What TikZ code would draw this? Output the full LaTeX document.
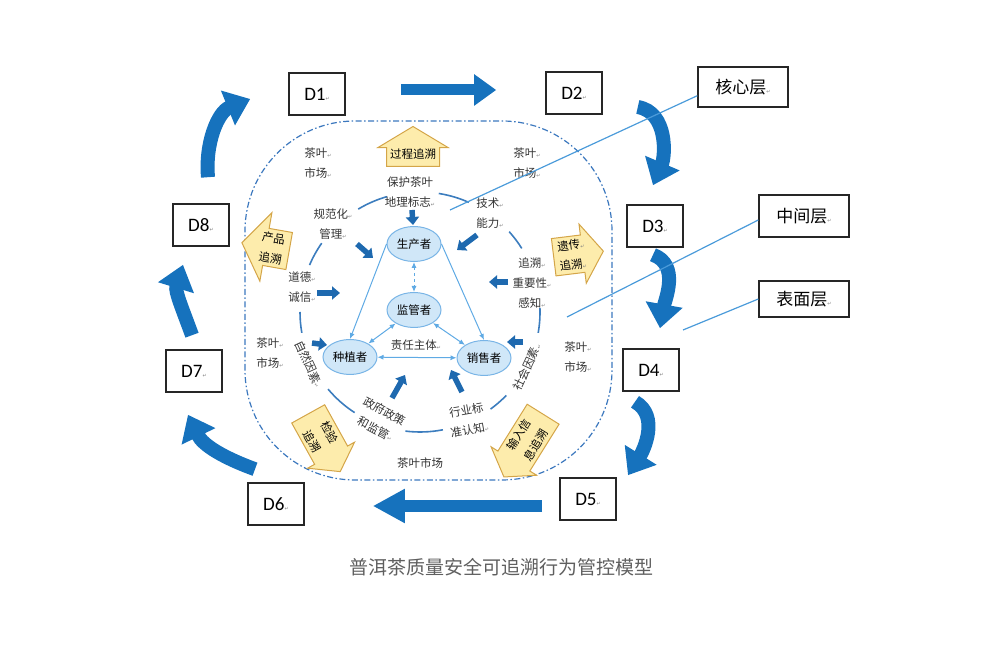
\documentclass[tikz,border=0pt]{standalone}
\usepackage{fontspec}
\setmainfont{Noto Sans CJK SC}
\newfontfamily\dfont{Carlito}
\newfontfamily\symf{DejaVu Sans}
\usetikzlibrary{arrows.meta,shapes.geometric,shapes.arrows}
\definecolor{bigblue}{RGB}{22,114,189}
\definecolor{fatblue}{RGB}{30,105,175}
\definecolor{ringblue}{RGB}{60,125,190}
\definecolor{linkblue}{RGB}{95,170,228}
\definecolor{ellfill}{RGB}{208,231,248}
\definecolor{ellbord}{RGB}{120,180,230}
\definecolor{yfill}{RGB}{253,236,172}
\definecolor{ybord}{RGB}{212,165,72}
\definecolor{dashblue}{RGB}{60,120,190}
\definecolor{leadblue}{RGB}{75,155,218}
\definecolor{capgray}{RGB}{95,95,95}
\newcommand\retm{{\symf\fontsize{5}{5}\selectfont\textcolor{black!50}{↵}}}
\tikzset{
  dbox/.style={draw=black!85, line width=1.6pt, fill=white, minimum width=56pt, minimum height=42pt, font=\dfont\fontsize{19}{19}\selectfont},
  lbox/.style={draw=black!85, line width=1.4pt, fill=white, minimum width=90pt, minimum height=40pt, font=\fontsize{17}{17}\selectfont},
  role/.style={ellipse, draw=ellbord, fill=ellfill, line width=1pt, minimum width=54pt, minimum height=35pt, inner sep=0pt, font=\fontsize{11.5}{12}\selectfont},
  lbl/.style={font=\fontsize{11.5}{20}\selectfont, text=black!80, align=center, inner sep=1pt},
  trace/.style={single arrow, draw=ybord, fill=yfill, line width=1pt, font=\fontsize{11.5}{20}\selectfont, align=center, inner sep=3pt},
  ring/.style={ringblue, line width=1.6pt},
  oneway/.style={linkblue, line width=1pt, -{Latex[length=6pt,width=5pt]}},
  twoway/.style={linkblue, line width=1pt, {Latex[length=6pt,width=5pt]}-{Latex[length=6pt,width=5pt]}},
  fat/.style={fatblue, line width=5.5pt, -{Triangle[length=8pt,width=13pt]}},
  bigarrow/.style={bigblue, line width=14pt, -{Triangle[length=24pt,width=36pt]}},
  leader/.style={leadblue, line width=1.2pt}
}
\begin{document}
\begin{tikzpicture}[x=1pt,y=1pt]
\useasboundingbox (0,0) rectangle (1006,647);

% outer boundary
\draw[dashblue, line width=1.2pt, dash pattern=on 6pt off 2.5pt on 1.5pt off 2.5pt, rounded corners=110pt] (245,167) rectangle (612,526);

% D boxes
\node[dbox] (d1) at (317,553) {D1\retm};
\node[dbox] (d2) at (574,554) {D2\retm};
\node[dbox] (d3) at (655,421) {D3\retm};
\node[dbox] (d4) at (651,277) {D4\retm};
\node[dbox] (d5) at (588,148) {D5\retm};
\node[dbox] (d6) at (276,143) {D6\retm};
\node[dbox] (d7) at (194,276) {D7\retm};
\node[dbox] (d8) at (201,422) {D8\retm};

% layers
\node[lbox] (hexin) at (743,560) {核心层\retm};
\node[lbox, minimum height=42pt] (zhong) at (804,431) {中间层\retm};
\node[lbox, minimum height=36pt] (biao) at (804,348) {表面层\retm};

% ring
\coordinate (ctr) at (420,335);
\foreach \a/\b in {106/121,66/81,32/42,-10/2,-54/-44,-97/-79,-140/-123,180/190,145/157}
  \draw[ring] (ctr) ++(\a:120) arc (\a:\b:120);

% actors
\node[role] (sc) at (414,403) {生产者};
\node[role] (jg) at (414,337) {监管者};
\node[role] (zz) at (350,290) {种植者};
\node[role] (xs) at (484,289) {销售者};
\draw[oneway] (sc.west) -- (zz.north);
\draw[oneway] (sc.east) -- (xs.north);
\draw[twoway, dashed] (sc) -- (jg);
\draw[twoway] (jg) -- (zz);
\draw[twoway] (jg) -- (xs);
\draw[twoway] (zz) -- (xs);

% labels
\node[lbl] (cy1) at (318,484) {茶叶\retm\\市场\retm};
\node[lbl] (cy2) at (527,484) {茶叶\retm\\市场\retm};
\node[lbl] (cy3) at (270,294) {茶叶\retm\\市场\retm};
\node[lbl] (cy4) at (578,290) {茶叶\retm\\市场\retm};
\node[lbl] (bh) at (410,455) {保护茶叶\\地理标志\retm};
\node[lbl] (gfh) at (333,423) {规范化\retm\\管理\retm};
\node[lbl] (js) at (490,434) {技术\retm\\能力\retm};
\node[lbl] (zs) at (532,364) {追溯\retm\\重要性\retm\\感知\retm};
\node[lbl] (dd) at (302,360) {道德\retm\\诚信\retm};
\node[lbl, rotate=-65] (zr) at (309,283) {自然因素\retm};
\node[lbl, rotate=65] (sh) at (527,280) {社会因素\retm};
\node[lbl, rotate=-28] (zf) at (380,227) {政府政策\\和监管\retm};
\node[lbl, rotate=10] (hy) at (468,227) {行业标\\准认知\retm};
\node[lbl] (sc2) at (420,184) {茶叶市场};
\node[lbl] (zr2) at (416,302) {责任主体\retm};

% short arrows
\foreach \xa/\ya/\xb/\yb in {412/437/413/422, 357/403/373/389, 477/412/457/397, 317/354/340/354, 508/365/489/365, 312/304/327/302, 523/305/507/305, 392/249/405/272, 462/255/451/277}
  \draw[fat] (\xa,\ya) -- (\xb,\yb);

% tracing arrows
\node[trace, shape border rotate=90, minimum height=40pt, single arrow head extend=8.5pt, single arrow tip angle=118, anchor=tail] (gc) at (413,480) {过程追溯};
\node[trace, rotate=7, minimum height=50pt, single arrow head extend=11pt, single arrow tip angle=110] (yc) at (572,392) {遗传\retm\\追溯\retm};
\node[trace, shape border rotate=180, rotate=-10, minimum height=48pt, single arrow head extend=16pt, single arrow tip angle=110] (cp) at (272,399) {产品\\追溯};
\node[trace, rotate=-61, minimum height=66pt, single arrow head extend=8pt, single arrow tip angle=110] (jy) at (321,210) {检验\\追溯};
\node[trace, shape border rotate=180, rotate=58, minimum height=74pt, single arrow head extend=8pt, single arrow tip angle=110] (sr) at (527,207) {输入信\\息追溯};

% cycle arrows
\draw[bigarrow, line width=11pt, -{Triangle[length=22pt,width=30pt]}] ([shift={(55,4)}]d1.east) -- ([shift={(-49,3)}]d2.west);
\draw[bigarrow] ([shift={(35,-14)}]d2.east) to[out=-10, in=67] ([shift={(-2,19)}]d3.north);
\draw[bigarrow] ([shift={(-2,-7)}]d3.south) to[out=-20, in=80] ([shift={(9,20)}]d4.north);
\draw[bigarrow] ([shift={(-16,-10)}]d4.south) to[out=-30, in=58] ([shift={(40,2)}]d5.north);
\draw[bigarrow, line width=12pt, -{Triangle[length=32pt,width=32pt]}] ([shift={(-17,-7)}]d5.west) -- ([shift={(68,-2)}]d6.east);
\draw[bigarrow] ([shift={(-21,13)}]d6.north) to[out=160, in=-64] ([shift={(-6,-22)}]d7.south);
\draw[bigarrow] ([shift={(-2,14)}]d7.north) to[out=110, in=-107] ([shift={(-18,-18)}]d8.south);
\draw[bigarrow] ([shift={(7,26)}]d8.north) to[out=95, in=-158] ([shift={(-38,-5)}]d1.west);

% leader lines
\coordinate (hx) at (450,437);
\coordinate (zj) at (567,330);
\coordinate (bm) at (683,317);
\draw[leader] ([yshift=12pt]hexin.south west) -- (hx);
\draw[leader] ([yshift=-4pt]zhong.west) -- (zj);
\draw[leader] (biao.west) -- (bm);

% caption
\node[font=\fontsize{19}{19}\selectfont, text=capgray] (cap) at (501,80) {普洱茶质量安全可追溯行为管控模型};
\end{tikzpicture}
\end{document}
